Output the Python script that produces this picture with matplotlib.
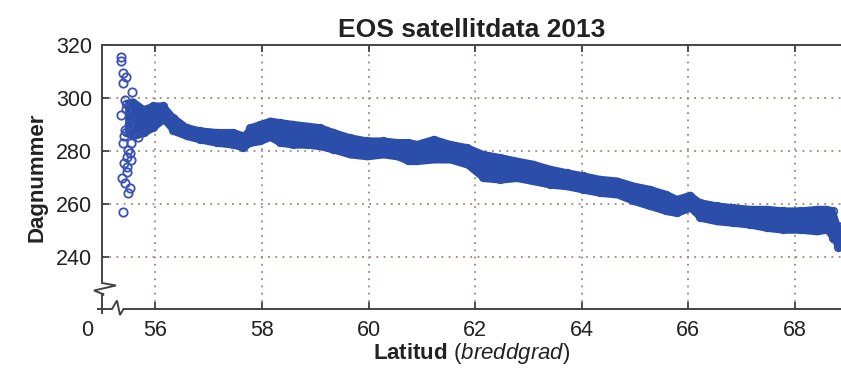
import numpy as np
import matplotlib
matplotlib.use("Agg")
import matplotlib.pyplot as plt
from matplotlib.lines import Line2D

# ---- data ----
band_lat = [55.45, 55.59, 55.78, 55.96, 56.15, 56.34, 56.59, 56.84, 57.15, 57.46,
            57.65, 57.78, 57.96, 58.15, 58.34, 58.59, 58.84, 59.09, 59.34, 59.65,
            59.97, 60.28, 60.53, 60.75, 60.90, 61.22, 61.53, 61.84, 62.15, 62.47,
            62.78, 63.09, 63.41, 63.72, 64.03, 64.34, 64.66, 64.97, 65.28, 65.59,
            65.78, 66.03, 66.22, 66.53, 66.84, 67.16, 67.47, 67.78, 68.09, 68.41,
            68.59, 68.72, 68.81, 68.87]
band_upper = [299.0, 299.5, 296.7, 298.0, 298.0, 293.6, 289.8, 288.6, 288.0, 288.0,
              286.7, 289.8, 291.0, 292.3, 291.7, 291.0, 290.4, 289.8, 288.0, 286.0,
              284.8, 284.8, 284.2, 284.2, 283.5, 285.4, 283.5, 282.3, 279.7, 278.5,
              277.2, 276.0, 274.1, 272.8, 271.6, 270.3, 269.7, 267.8, 266.5, 264.6,
              262.8, 264.3, 261.5, 260.3, 259.6, 259.0, 259.0, 258.4, 258.4, 259.0,
              259.0, 258.4, 252.8, 251.0]
band_lower = [286.0, 284.8, 286.0, 288.0, 291.0, 286.7, 284.8, 283.5, 282.3, 281.6,
              280.4, 282.3, 282.9, 284.4, 282.3, 281.6, 281.6, 281.0, 279.7, 277.9,
              277.2, 277.9, 277.2, 275.4, 275.4, 276.0, 276.0, 274.1, 269.0, 268.4,
              269.0, 267.8, 266.5, 265.9, 264.6, 263.4, 262.8, 260.3, 258.4, 256.5,
              255.8, 257.7, 254.0, 252.7, 252.1, 251.4, 250.2, 249.5, 249.5, 248.9,
              249.5, 245.8, 242.6, 243.5]

out_lat = [55.35, 55.35, 55.40, 55.45, 55.40, 55.56, 55.43, 55.35, 55.43, 55.40,
           55.49, 55.46, 55.41, 55.47, 55.52, 55.38, 55.43, 55.49, 55.52, 55.40,
           55.68, 55.45, 55.50, 55.42, 55.55, 55.47, 55.55]
out_day = [315.6, 314.0, 309.3, 308.0, 305.5, 302.4, 299.2, 293.6, 288.0, 282.9,
           280.4, 277.9, 275.4, 274.1, 279.1, 269.7, 267.8, 264.0, 265.9, 257.1,
           285.4, 296.0, 290.0, 285.5, 276.5, 272.0, 283.0]

xticks = [56, 58, 60, 62, 64, 66, 68]
yticks = [240, 260, 280, 300, 320]
title = "EOS satellitdata 2013"

# ---- figure ----
W, H = 841, 370
plt.rcParams['font.family'] = ['Liberation Sans', 'DejaVu Sans']
plt.rcParams['mathtext.fontset'] = 'custom'
plt.rcParams['mathtext.rm'] = 'Liberation Sans'
plt.rcParams['mathtext.bf'] = 'Liberation Sans:bold'
plt.rcParams['mathtext.it'] = 'Liberation Sans:italic'
fig = plt.figure(figsize=(W / 100, H / 100), dpi=100)

def P(x, y):
    return (x / W, 1 - y / H)

ax_l, ax_r, ax_t, ax_b = 102, 841, 45, 309
ax = fig.add_axes([ax_l / W, 1 - ax_b / H, (ax_r - ax_l) / W, (ax_b - ax_t) / H])
ax.set_xlim(55, 55 + (ax_r - ax_l) / 53.3)
ax.set_ylim(220.4, 320)

blue = '#2b4eaa'
ax.fill_between(band_lat, band_lower, band_upper, color=blue, lw=2.0,
                edgecolor=blue, zorder=3)
ax.plot(band_lat, np.array(band_upper) - 1.2, 'o', ms=5.5, mfc='none',
        mec=blue, mew=1.2, zorder=3)
ax.plot(band_lat, np.array(band_lower) + 1.2, 'o', ms=5.5, mfc='none',
        mec=blue, mew=1.2, zorder=3)
ax.plot(out_lat, out_day, 'o', ms=6.0, mfc='none', mec='#3a52b4', mew=1.3,
        zorder=4)

ax.set_xticks(xticks)
ax.set_yticks(yticks)
ax.tick_params(direction='in', top=True, bottom=True, left=True, right=False,
               length=5, width=1.2, color='#333333', labelsize=15.5,
               labelcolor='#222222')
ax.tick_params(axis='x', pad=8)
ax.tick_params(axis='y', pad=7)
ax.grid(True, color='#9c8878', linestyle=(0, (1, 3)), linewidth=1.3)

for s in ['left', 'bottom', 'right']:
    ax.spines[s].set_visible(False)
ax.spines['top'].set_color('#444444')
ax.spines['top'].set_linewidth(1.4)

# broken axis lines
lc = '#444444'
def line(pts):
    xs = [P(x, y)[0] for x, y in pts]
    ys = [P(x, y)[1] for x, y in pts]
    fig.add_artist(Line2D(xs, ys, color=lc, lw=1.4, transform=fig.transFigure,
                          solid_joinstyle='miter'))

line([(102, 45), (102, 283), (116, 285.5), (94, 290.5), (104, 294.5), (102, 295),
      (102, 313)])
line([(98, 309), (112, 309), (117, 300.5), (120, 315), (123.5, 309), (841, 309)])

fig.text(*P(87, 331), "0", ha='center', va='center', fontsize=15.5,
         color='#222222')

ax.set_title(title, fontsize=19, fontweight='bold', color='#222222', pad=6)
ax.set_ylabel("Dagnummer", fontsize=16, fontweight='bold', color='#222222',
              labelpad=6)
ax.set_xlabel(r"$\mathbf{Latitud}$ $\mathit{(breddgrad)}$", fontsize=16,
              color='#222222', labelpad=0)

fig.savefig("out.png", dpi=100)
